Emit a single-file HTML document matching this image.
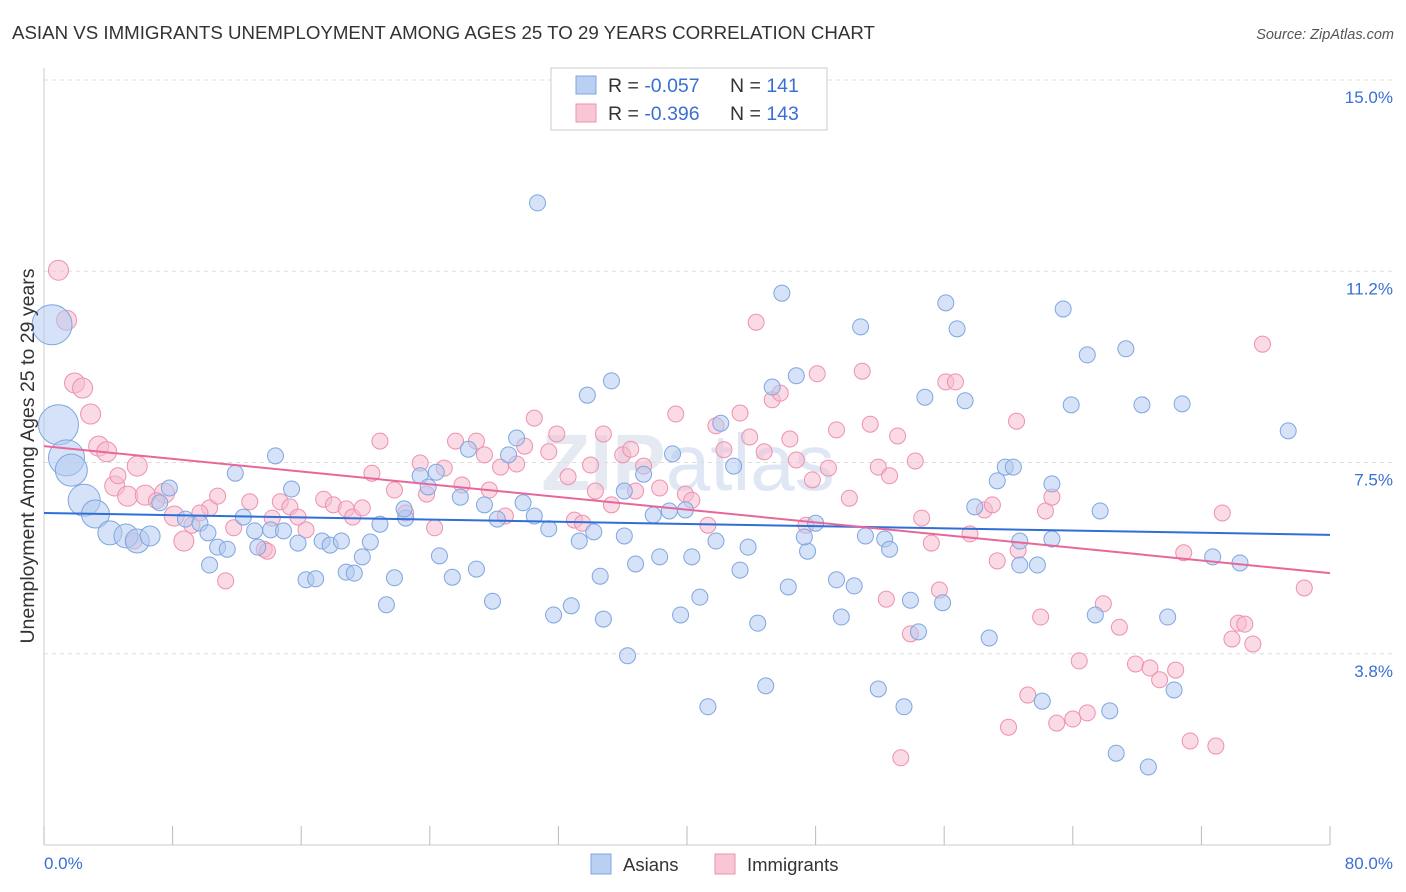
<!DOCTYPE html>
<html><head><meta charset="utf-8">
<style>
body{margin:0;background:#fff;font-family:"Liberation Sans",sans-serif;}
svg{display:block}
</style></head><body>
<svg id="chart" width="1406" height="892" viewBox="0 0 1406 892" xmlns="http://www.w3.org/2000/svg">
<text x="12" y="39" font-size="18.7" fill="#333">ASIAN VS IMMIGRANTS UNEMPLOYMENT AMONG AGES 25 TO 29 YEARS CORRELATION CHART</text>
<text x="1394" y="39" font-size="14.5" fill="#555" text-anchor="end" font-style="italic">Source: ZipAtlas.com</text>
<text x="688" y="490" font-size="80" fill="#e4e9f2" text-anchor="middle" font-weight="bold">ZIP<tspan fill="#dfe7f5" font-weight="normal">atlas</tspan></text>
<g id="grid"></g>
<g id="axes"></g>
<g id="points"></g>
<g id="trends"></g>
<text transform="translate(34,456) rotate(-90)" font-size="19.5" fill="#333" text-anchor="middle">Unemployment Among Ages 25 to 29 years</text>
<text x="44" y="869" font-size="17" fill="#3a6fd3">0.0%</text>
<text x="1393" y="869" font-size="17" fill="#3a6fd3" text-anchor="end">80.0%</text>
<g>
<rect x="551" y="68" width="276" height="62" fill="#fff" stroke="#ccc"/>
<rect x="576" y="76" width="20" height="18" fill="#b9d0f2" stroke="#7fa6e0"/>
<rect x="576" y="104" width="20" height="18" fill="#f8c6d5" stroke="#ee91ae"/>
<text x="608" y="92" font-size="19.5" fill="#333">R = <tspan fill="#3a6fd3">-0.057</tspan><tspan x="730">N = </tspan><tspan fill="#3a6fd3">141</tspan></text>
<text x="608" y="120" font-size="19.5" fill="#333">R = <tspan fill="#3a6fd3">-0.396</tspan><tspan x="730">N = </tspan><tspan fill="#3a6fd3">143</tspan></text>
</g>
<g>
<rect x="591" y="854" width="20" height="20" fill="#b9d0f2" stroke="#7fa6e0"/>
<text x="623" y="871" font-size="18.5" fill="#333">Asians</text>
<rect x="715" y="854" width="20" height="20" fill="#f8c6d5" stroke="#ee91ae"/>
<text x="747" y="871" font-size="18.5" fill="#333">Immigrants</text>
</g>
</svg>
<script>
const yTicks=[15.0,11.25,7.5,3.75];
const yTickLabels=["15.0%","11.2%","7.5%","3.8%"];
const xTicks=[0,8,16,24,32,40,48,56,64,72,80];
const blueX=[30.7,45.9,56.1,63.4,50.8,56.8,67.3,64.9,35.3,46.8,45.3,54.8,57.3,63.9,68.3,70.8,77.4,33.8,42.1,29.4,26.4,28.9,14.4,11.9,24.4,23.4,23.9,25.9,29.8,27.4,28.2,30.5,31.4,22.5,20.9,22.4,15.4,12.4,7.8,7.2,8.8,9.7,10.2,13.1,14.1,14.9,15.8,17.3,17.8,18.5,19.8,20.3,10.3,10.8,11.4,13.3,16.3,16.9,18.8,19.3,21.8,24.6,25.4,26.9,21.3,27.9,31.7,32.8,34.8,33.3,34.2,36.8,38.3,40.3,41.8,43.8,43.3,40.8,39.6,44.4,46.3,47.5,48.0,47.3,49.3,50.4,51.1,52.3,52.6,53.9,54.4,55.9,58.8,60.7,61.8,60.7,59.8,60.3,59.3,57.9,62.7,65.7,65.4,69.9,72.7,74.4,70.3,66.7,68.7,66.3,62.1,53.5,51.9,44.9,41.3,36.3,38.9,39.9,37.9,36.1,37.3,39.1,42.9,36.1,49.6,62.7,34.6,0.5,0.9,1.4,1.7,2.5,3.2,4.1,5.1,5.8,6.6];
const blueY=[12.59,10.82,10.63,10.51,10.16,10.12,9.73,9.61,9.10,9.20,8.98,8.78,8.71,8.63,8.63,8.65,8.12,8.82,8.27,7.98,7.76,7.65,7.63,7.29,7.31,7.24,7.02,6.82,6.71,6.67,6.39,6.45,6.20,6.41,6.29,6.59,6.98,6.43,7.00,6.71,6.39,6.31,6.12,6.16,6.18,6.16,5.92,5.96,5.88,5.96,5.65,5.94,5.49,5.84,5.80,5.84,5.20,5.22,5.35,5.33,5.24,5.67,5.25,5.41,4.71,4.78,4.51,4.69,4.43,5.96,6.14,5.51,5.65,5.65,5.96,5.84,5.39,4.86,4.51,4.35,5.06,5.76,6.31,6.04,5.20,5.08,6.06,6.00,5.80,4.80,4.18,4.75,4.06,5.49,5.49,5.96,7.41,7.41,7.14,6.63,7.08,6.55,4.51,4.47,5.65,5.53,3.04,1.80,1.53,2.63,2.82,2.71,3.06,3.12,2.71,3.71,6.55,6.57,6.47,6.94,7.27,7.67,7.43,6.06,4.47,6.00,5.27,10.2,8.24,7.59,7.35,6.76,6.49,6.12,6.06,5.96,6.06];
const blueSize=[];for(let i=0;i<blueX.length;i++)blueSize.push(8);
const blueBig=[20,20,18,16,16,14,12,12,12,10];
blueBig.forEach((s,i)=>{blueSize[blueX.length-blueBig.length+i]=s;});
const pinkX=[0.9,1.4,1.9,2.4,2.9,3.4,3.9,5.8,4.4,5.2,6.3,7.5,8.1,8.7,9.2,10.3,10.8,11.8,12.8,13.7,14.2,14.7,15.3,15.8,16.3,17.4,18.0,18.8,19.2,19.8,20.4,20.9,21.8,22.5,23.4,23.8,24.3,24.9,25.6,26.0,26.9,27.4,27.7,28.4,28.7,29.4,29.9,30.5,31.4,31.9,32.6,33.0,33.5,34.0,34.3,34.8,35.3,36.0,36.5,36.8,37.3,38.3,39.3,39.9,40.3,41.3,41.8,42.3,43.3,43.9,44.3,44.8,45.3,45.8,46.4,46.8,47.4,47.8,48.1,48.8,49.3,50.1,50.9,51.4,51.9,52.6,53.1,54.2,54.6,55.2,55.7,56.1,56.7,57.6,58.5,59.0,59.3,60.5,60.6,62.0,62.3,62.7,63.0,64.0,64.4,64.9,65.9,66.9,67.9,68.8,69.4,70.4,71.3,72.9,73.3,73.9,74.3,74.7,75.2,75.8,78.4,60.0,53.3,52.4,53.9,61.2,11.3,13.9,9.7,7.0,4.6,5.6,70.9];
const pinkY=[11.27,10.29,9.06,8.96,8.45,7.82,7.71,7.43,7.04,6.84,6.86,6.90,6.45,5.96,6.27,6.61,6.84,6.22,6.73,5.80,6.41,6.73,6.63,6.43,6.18,6.78,6.67,6.59,6.43,6.61,7.29,7.92,6.96,6.51,7.49,6.88,6.22,7.39,7.92,7.06,7.92,7.65,6.96,7.41,6.45,7.47,7.82,8.37,7.71,8.06,7.22,6.37,6.31,7.45,6.94,8.06,6.67,7.65,7.76,6.94,7.43,7.00,8.45,6.88,6.76,6.27,8.22,7.75,8.47,8.00,10.25,7.71,8.73,8.86,7.96,7.55,6.27,7.16,9.24,7.39,8.14,6.80,9.29,8.25,7.41,7.24,8.02,7.53,6.41,5.92,5.00,9.08,9.08,6.10,6.57,6.67,5.57,8.31,5.78,4.47,6.55,6.82,2.39,2.47,3.61,2.59,4.73,4.27,3.55,3.47,3.24,3.43,2.04,1.94,6.51,4.04,4.35,4.33,3.94,9.82,5.04,2.31,1.71,4.82,4.14,2.94,5.18,5.76,6.51,6.75,7.24,5.96,5.73];
const pinkSize=[];for(let i=0;i<pinkX.length;i++)pinkSize.push(i<14?10:8);
const blueTrend=[6.51,6.08];
const pinkTrend=[7.82,5.33];

const NS="http://www.w3.org/2000/svg";
const X0=44,X1=1330,YB=845,YT=80;
const sx=v=>X0+(v/80)*(X1-X0);
const sy=v=>YB-(v/15)*(YB-YT);
function mk(tag,attrs,parent){const e=document.createElementNS(NS,tag);for(const k in attrs)e.setAttribute(k,attrs[k]);parent.appendChild(e);return e;}
const grid=document.getElementById('grid'),axes=document.getElementById('axes'),pts=document.getElementById('points'),tr=document.getElementById('trends');
yTicks.forEach((t,i)=>{
 const l=mk('line',{x1:X0,x2:1394,y1:sy(t),y2:sy(t),stroke:'#ddd','stroke-dasharray':'4,4'},grid);
 
 
 const tx=mk('text',{x:1393,y:sy(t)+23,'font-size':17,fill:'#3a6fd3','text-anchor':'end'},grid);
 tx.textContent=yTickLabels[i];
 
 
});
const ya=mk('line',{x1:X0,x2:X0,y1:68,y2:YB,stroke:'#ccc'},axes);


const xa=mk('line',{x1:X0,x2:X1,y1:YB,y2:YB,stroke:'#ccc'},axes);


xTicks.forEach(t=>{
 const l=mk('line',{x1:sx(t),x2:sx(t),y1:826,y2:YB,stroke:'#bbb'},axes);
 
 
});
function drawPts(xs,ys,ss,fill,stroke,name){
 xs.forEach((x,i)=>{
  const c=mk('circle',{cx:sx(x),cy:sy(ys[i]),r:ss[i],fill:fill,'fill-opacity':0.55,stroke:stroke,'stroke-width':1},pts);
  
  
 });
}
drawPts(pinkX,pinkY,pinkSize,'#f6bccd','#ee91ae','immigrants-point');
drawPts(blueX,blueY,blueSize,'#b2cbf0','#7fa6e0','asians-point');
const bl=mk('line',{x1:sx(0),y1:sy(blueTrend[0]),x2:sx(80),y2:sy(blueTrend[1]),stroke:'#2f6fd6','stroke-width':2},tr);


const pl=mk('line',{x1:sx(0),y1:sy(pinkTrend[0]),x2:sx(80),y2:sy(pinkTrend[1]),stroke:'#e8679a','stroke-width':2},tr);


</script>
</body></html>
